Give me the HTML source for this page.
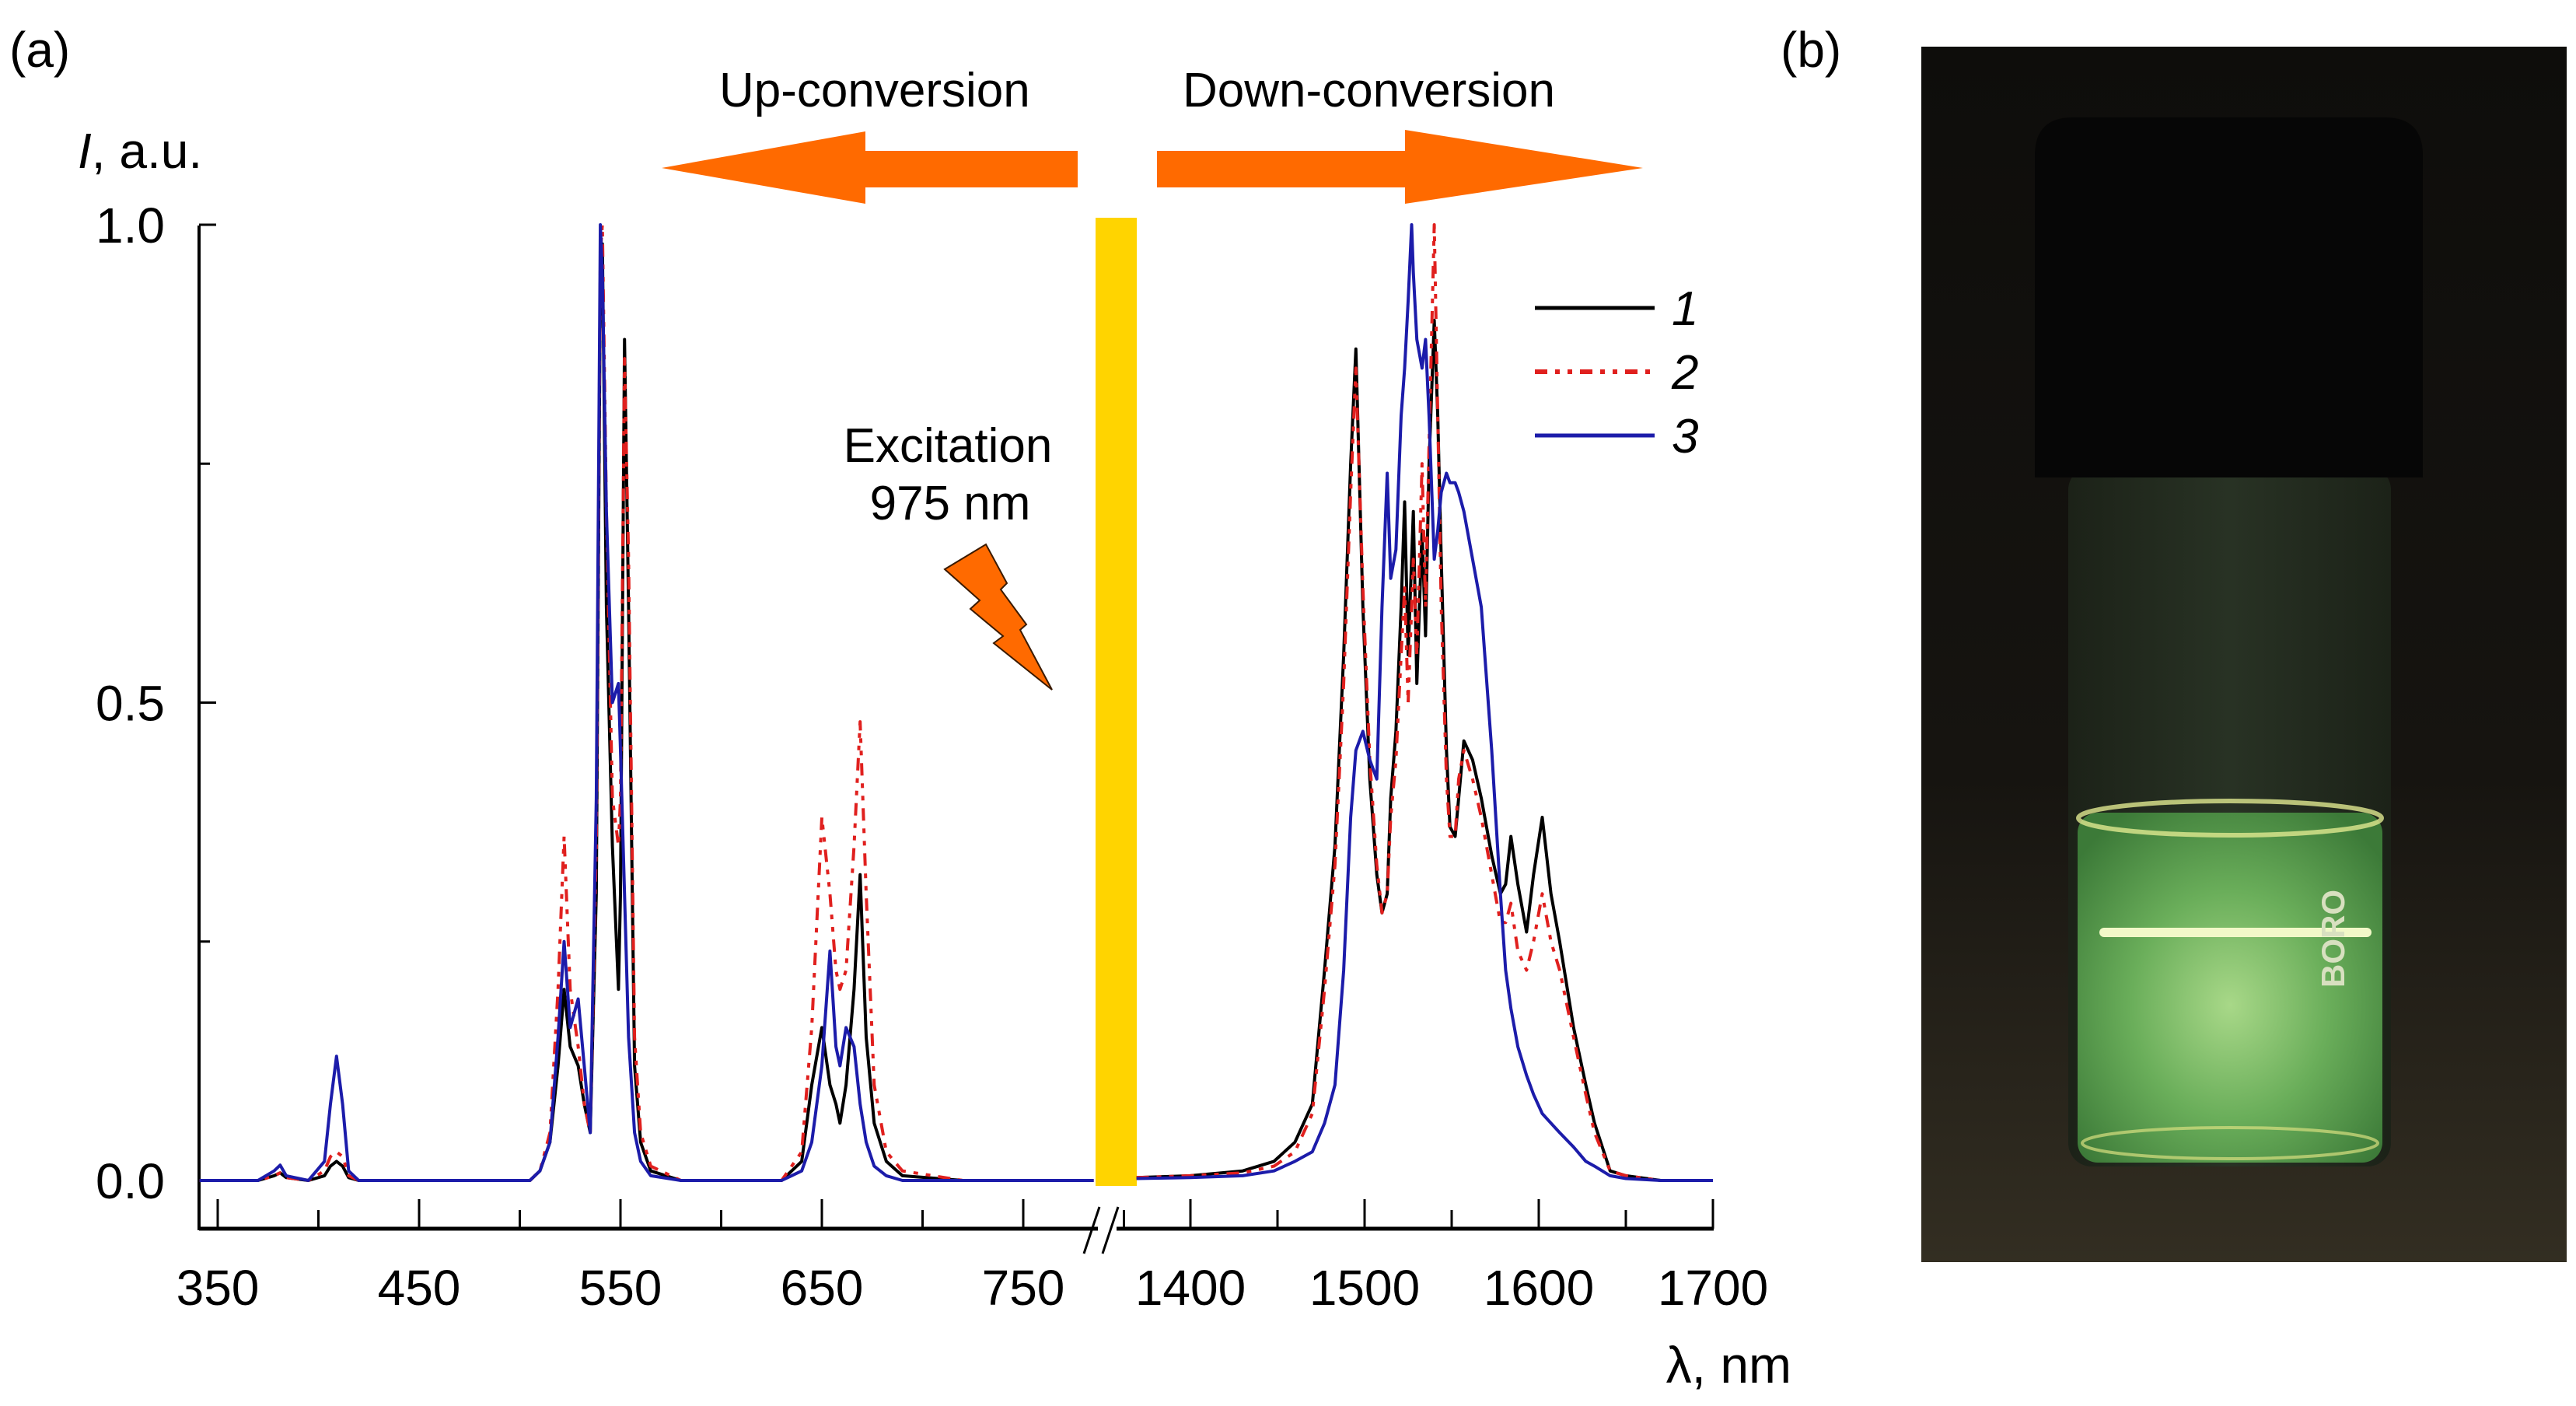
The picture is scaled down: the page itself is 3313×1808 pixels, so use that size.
<!DOCTYPE html>
<html><head><meta charset="utf-8"><style>
html,body{margin:0;padding:0;background:#fff;}
svg{display:block;}
text{font-family:"Liberation Sans",sans-serif;}
</style></head><body>
<svg width="3313" height="1808" viewBox="0 0 3313 1808" xmlns="http://www.w3.org/2000/svg">
<defs>
<radialGradient id="glow" cx="50%" cy="55%" r="65%">
<stop offset="0" stop-color="#a8d888"/><stop offset="0.5" stop-color="#6aae5a"/><stop offset="1" stop-color="#3c7a38"/>
</radialGradient>
<linearGradient id="floor" x1="0" y1="0" x2="0" y2="1">
<stop offset="0" stop-color="#0e0d0b"/><stop offset="0.6" stop-color="#161410"/><stop offset="1" stop-color="#332e22"/>
</linearGradient>
<linearGradient id="glass" x1="0" y1="0" x2="1" y2="0">
<stop offset="0" stop-color="#1c2218"/><stop offset="0.5" stop-color="#283224"/><stop offset="1" stop-color="#1c2218"/>
</linearGradient>
</defs>
<text x="12" y="86" font-size="64">(a)</text>
<text x="2290" y="86" font-size="64">(b)</text>
<text x="925" y="137" font-size="62">Up-conversion</text>
<text x="1521" y="137" font-size="62">Down-conversion</text>
<text x="100" y="216" font-size="64"><tspan font-style="italic">I</tspan>, a.u.</text>
<polygon points="851,216 1113,169 1113,194 1386,194 1386,241 1113,241 1113,262" fill="#ff6a00"/>
<polygon points="1488,194 1807,194 1807,167 2113,216 1807,262 1807,241 1488,241" fill="#ff6a00"/>
<text x="1219" y="594" font-size="62" text-anchor="middle">Excitation</text>
<text x="1222" y="668" font-size="62" text-anchor="middle">975 nm</text>
<polygon points="1215,732 1268,700 1295,750 1287,758 1320,803 1312,810 1353,887 1278,827 1290,818 1248,783 1260,772" fill="#ff6a00" stroke="#3a1a00" stroke-width="2"/>
<rect x="1409" y="280" width="53" height="1245" fill="#ffd400"/>
<g id="axes"></g>
<g id="series"></g>
<g id="legend">
<line x1="1974" y1="396" x2="2128" y2="396" stroke="#000" stroke-width="5"/>
<line x1="1974" y1="478" x2="2128" y2="478" stroke="#e0201e" stroke-width="6" stroke-dasharray="16,10,6,10,6,10"/>
<line x1="1974" y1="560" x2="2128" y2="560" stroke="#1c1caa" stroke-width="5"/>
<text x="2150" y="418" font-size="62" font-style="italic">1</text>
<text x="2150" y="500" font-size="62" font-style="italic">2</text>
<text x="2150" y="582" font-size="62" font-style="italic">3</text>
</g>
<text x="2304" y="1778" font-size="66" text-anchor="end">λ, nm</text>
<g>
<rect x="2471" y="60" width="830" height="1563" fill="url(#floor)"/>
<rect x="2660" y="600" width="415" height="900" rx="30" fill="url(#glass)"/>
<rect x="2672" y="1045" width="392" height="450" rx="26" fill="url(#glow)"/>
<ellipse cx="2868" cy="1052" rx="195" ry="22" fill="none" stroke="#e0e890" stroke-width="6" opacity="0.8"/>
<rect x="2700" y="1193" width="350" height="12" rx="6" fill="#f2f8c8"/>
<ellipse cx="2868" cy="1470" rx="190" ry="20" fill="none" stroke="#d8e080" stroke-width="4" opacity="0.7"/>
<text x="0" y="0" font-size="42" font-weight="bold" fill="#d8e0c0" transform="translate(3015,1270) rotate(-90)">BORO</text>
<path d="M2617,614 L2617,200 Q2617,151 2666,151 L3067,151 Q3116,151 3116,200 L3116,614 Z" fill="#060606"/>
</g>
</svg>
<script>
const wlUp = [341,370,378,381,384,395,403,406,409,412,415,420,480,505,510,515,519,522,525,529,532,535,538,540,541,543,546,549,550,552,554,557,560,565,580,630,640,645,650,654,657,659,662,666,669,672,676,682,690,720,785];
const s1Up = [0,0,.005,.008,.003,0,.005,.015,.02,.015,.003,0,0,0,.01,.04,.12,.2,.14,.12,.08,.05,.3,.95,.98,.6,.35,.2,.3,.88,.6,.12,.04,.01,0,0,.02,.1,.16,.1,.08,.06,.1,.2,.32,.15,.06,.02,.005,0,0];
const s2Up = [0,0,.005,.008,.003,0,.01,.025,.03,.025,.005,0,0,0,.01,.05,.2,.36,.2,.14,.08,.05,.35,.97,1,.7,.4,.35,.4,.86,.65,.15,.05,.015,0,0,.03,.16,.38,.3,.22,.2,.22,.35,.48,.3,.1,.03,.01,0,0];
const s3Up = [0,0,.01,.016,.005,0,.02,.08,.13,.08,.01,0,0,0,.01,.04,.15,.25,.16,.19,.12,.05,.4,1,.95,.7,.5,.52,.45,.3,.15,.05,.02,.005,0,0,.01,.04,.12,.24,.14,.12,.16,.14,.08,.04,.015,.005,0,0,0];
const wlDown = [1369,1400,1430,1448,1460,1470,1477,1483,1488,1492,1495,1499,1503,1507,1510,1513,1515,1518,1521,1523,1525,1527,1528,1530,1533,1535,1537,1540,1542,1544,1547,1549,1552,1554,1557,1562,1567,1573,1578,1581,1584,1588,1593,1597,1602,1607,1612,1620,1627,1632,1641,1650,1670,1700];
const s1Down = [.003,.005,.01,.02,.04,.08,.22,.35,.55,.75,.87,.6,.42,.32,.28,.3,.4,.47,.6,.71,.55,.65,.7,.52,.68,.57,.75,.9,.8,.65,.45,.37,.36,.4,.46,.44,.4,.34,.3,.31,.36,.31,.26,.32,.38,.3,.25,.16,.1,.06,.01,.005,0,0];
const s2Down = [.003,.005,.008,.015,.03,.07,.2,.33,.52,.72,.85,.62,.44,.33,.28,.3,.38,.44,.55,.62,.5,.6,.65,.55,.75,.6,.77,1,.8,.6,.42,.36,.36,.42,.45,.42,.38,.32,.27,.27,.29,.24,.22,.25,.3,.25,.22,.15,.09,.05,.01,.005,0,0];
const s3Down = [.002,.003,.005,.01,.02,.03,.06,.1,.22,.38,.45,.47,.44,.42,.6,.74,.63,.66,.8,.85,.92,1,.95,.88,.85,.88,.8,.65,.68,.72,.74,.73,.73,.72,.7,.65,.6,.45,.3,.22,.18,.14,.11,.09,.07,.06,.05,.035,.02,.015,.005,.002,0,0];
const xTicksUp = [350,450,550,650,750];
const xMinorUp = [400,500,600,700,800];
const xTicksDown = [1400,1500,1600,1700];
const xMinorDown = [1450,1550,1650];
const yTicks = [0,0.5,1.0];
const yMinor = [0.25,0.75];

const NS = 'http://www.w3.org/2000/svg';
function xUp(nm){return 280+(nm-350)*2.59;}
function xDown(nm){return 1531+(nm-1400)*2.24;}
function yS(v){return 1518-v*1229;}
function mk(tag, attrs, parent){const e=document.createElementNS(NS,tag);for(const k in attrs)e.setAttribute(k,attrs[k]);parent.appendChild(e);return e;}
const axes=document.getElementById('axes');
const series=document.getElementById('series');
let el=mk('line',{x1:256,y1:290,x2:256,y2:1582,stroke:'#000','stroke-width':4},axes);


el=mk('line',{x1:256,y1:1580,x2:1412,y2:1580,stroke:'#000','stroke-width':5},axes);


el=mk('line',{x1:1436,y1:1580,x2:2204,y2:1580,stroke:'#000','stroke-width':5},axes);


el=mk('path',{d:'M1394,1612 L1414,1552 M1418,1612 L1438,1552',stroke:'#000','stroke-width':3,fill:'none'},axes);


function xtick(x,len,label){
  const t=mk('line',{x1:x,y1:1580,x2:x,y2:1580-len,stroke:'#000','stroke-width':3},axes);
  
  
  if(label!==null){
    const tx=mk('text',{x:x,y:1678,'font-size':64,'text-anchor':'middle'},axes);
    tx.textContent=label;
    
    
  }
}
xTicksUp.forEach(v=>xtick(xUp(v),38,String(v)));
xMinorUp.forEach(v=>xtick(xUp(v),24,null));
xTicksDown.forEach(v=>xtick(xDown(v),38,String(v)));
xMinorDown.forEach(v=>xtick(xDown(v),24,null));
yTicks.forEach(v=>{
  const t=mk('line',{x1:256,y1:yS(v),x2:278,y2:yS(v),stroke:'#000','stroke-width':3},axes);
  
  
  const tx=mk('text',{x:212,y:yS(v)+23,'font-size':64,'text-anchor':'end'},axes);
  tx.textContent=v.toFixed(1);
  
  
});
yMinor.forEach(v=>{
  const t=mk('line',{x1:256,y1:yS(v),x2:270,y2:yS(v),stroke:'#000','stroke-width':3},axes);
  
  
});
function pts(wl,vals,fx){return wl.map((w,i)=>fx(w).toFixed(1)+','+yS(vals[i]).toFixed(1)).join(' ');}
const styles=[
  {c:'#000',w:4,d:null,n:'1'},
  {c:'#e0201e',w:4,d:'16,10,6,10,6,10',n:'2'},
  {c:'#1c1caa',w:4,d:null,n:'3'}
];
const up=[s1Up,s2Up,s3Up], down=[s1Down,s2Down,s3Down];
[0,1,2].forEach(i=>{
  const st=styles[i];
  const a={fill:'none',stroke:st.c,'stroke-width':st.w,'stroke-linejoin':'round'};
  if(st.d)a['stroke-dasharray']=st.d;
  const p1=mk('polyline',Object.assign({points:pts(wlUp,up[i],xUp)},a),series);
  
  
  const p2=mk('polyline',Object.assign({points:pts(wlDown,down[i],xDown)},a),series);
  
  
});
</script>
</body></html>
